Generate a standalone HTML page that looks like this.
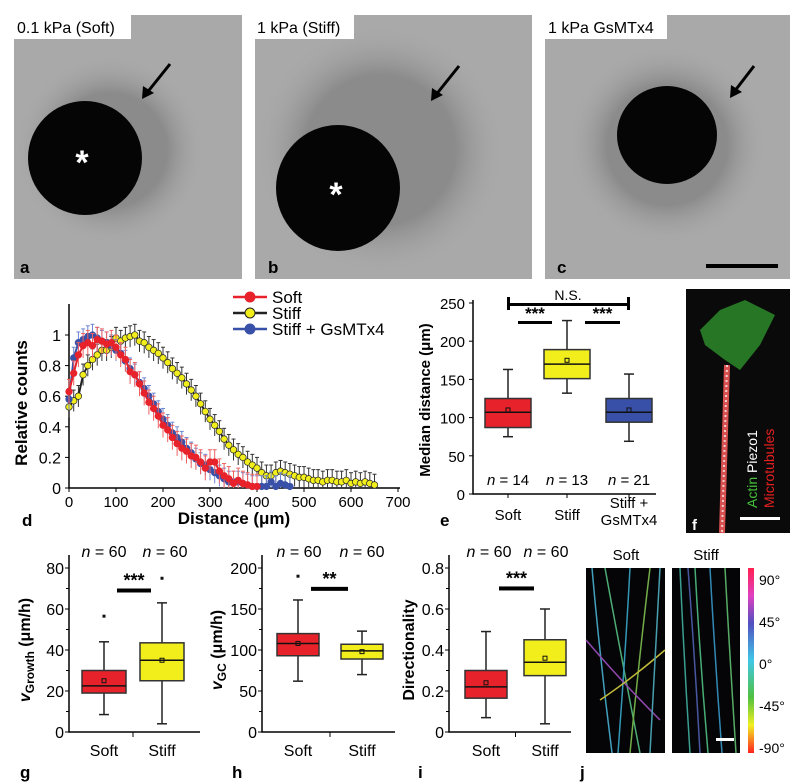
<!DOCTYPE html>
<html><head><meta charset="utf-8"><style>
body{margin:0;background:#fff}
svg{display:block;font-family:"Liberation Sans",sans-serif}
</style></head><body>
<svg id="fig" width="800" height="784" viewBox="0 0 800 784" xmlns="http://www.w3.org/2000/svg">
<defs>
<radialGradient id="halo" cx="50%" cy="50%" r="50%"><stop offset="60%" stop-color="#777"/><stop offset="100%" stop-color="#a8a8a8" stop-opacity="0"/></radialGradient>
</defs>
<g>
<rect x="14" y="15" width="228" height="264" fill="#a9a9a9"/>
<circle cx="110" cy="150" r="95" fill="url(#halo)" opacity="0.6"/>
<ellipse cx="85" cy="158" rx="57" ry="57" fill="#050505"/>
<text x="82" y="174" font-size="34" fill="#fff" text-anchor="middle" font-weight="bold">*</text>
<rect x="14" y="15" width="117" height="24" fill="#fff"/>
<text x="17" y="33" font-size="16">0.1 kPa (Soft)</text>
<line x1="170" y1="64" x2="146" y2="94" stroke="#000" stroke-width="3"/><polygon points="142,99 143,86 154,93" fill="#000"/>
<text x="20" y="273" font-size="17" font-weight="bold">a</text>
</g>
<g>
<rect x="255" y="15" width="277" height="264" fill="#a9a9a9"/>
<circle cx="380" cy="150" r="125" fill="url(#halo)" opacity="0.6"/>
<ellipse cx="338" cy="188" rx="62" ry="63" fill="#050505"/>
<text x="336" y="206" font-size="34" fill="#fff" text-anchor="middle" font-weight="bold">*</text>
<rect x="255" y="15" width="99" height="24" fill="#fff"/>
<text x="257" y="33" font-size="16">1 kPa (Stiff)</text>
<line x1="459" y1="66" x2="435" y2="96" stroke="#000" stroke-width="3"/><polygon points="431,101 432,88 443,95" fill="#000"/>
<text x="268" y="273" font-size="17" font-weight="bold">b</text>
</g>
<g>
<rect x="545" y="15" width="245" height="264" fill="#a9a9a9"/>
<circle cx="667" cy="145" r="100" fill="url(#halo)" opacity="0.6"/>
<ellipse cx="667" cy="135" rx="50" ry="49" fill="#050505"/>
<rect x="545" y="15" width="122" height="24" fill="#fff"/>
<text x="548" y="33" font-size="16">1 kPa GsMTx4</text>
<line x1="754" y1="66" x2="734" y2="92" stroke="#000" stroke-width="3"/><polygon points="730,98 731,85 742,92" fill="#000"/>
<rect x="706" y="264" width="72" height="4" fill="#000"/>
<text x="557" y="273" font-size="17" font-weight="bold">c</text>
</g>

<g id="chartD"></g>
<g id="chartE"></g>
<g>
<rect x="686" y="289" width="104" height="244" fill="#0a0a0a"/>
<path d="M700,330 L720,310 L745,300 L775,315 L760,345 L740,370 L725,360 L705,345Z" fill="#2c8a2a" opacity="0.85"/>
<line x1="727" y1="365" x2="722" y2="533" stroke="#d85050" stroke-width="6"/>
<line x1="727" y1="365" x2="722" y2="533" stroke="#f3d0d0" stroke-width="2" stroke-dasharray="2,3"/>
<text transform="translate(757,508) rotate(-90)" font-size="14"><tspan fill="#45c23a">Actin</tspan><tspan fill="#fff"> Piezo1</tspan></text>
<text transform="translate(774,508) rotate(-90)" font-size="14" fill="#e82020">Microtubules</text>
<rect x="740" y="517" width="40" height="3" fill="#fff"/>
<text x="692" y="530" font-size="15" font-weight="bold" fill="#fff">f</text>
</g>
<g id="chartG"></g>
<g id="chartH"></g>
<g id="chartI"></g>
<g>
<text x="626" y="560" font-size="15" text-anchor="middle">Soft</text>
<text x="706" y="560" font-size="15" text-anchor="middle">Stiff</text>
<rect x="586" y="568" width="79" height="185" fill="#050508"/>
<rect x="672" y="568" width="68" height="185" fill="#050508"/>
<g stroke-width="1.5" fill="none" opacity="0.9">
<path d="M592,568 Q600,660 612,753" stroke="#4ab0d0"/><path d="M605,568 Q620,650 640,753" stroke="#55c080"/>
<path d="M630,568 Q625,660 618,753" stroke="#3aa8c8"/><path d="M650,568 Q640,650 630,753" stroke="#80c050"/>
<path d="M586,640 Q620,680 660,720" stroke="#a050c0"/><path d="M600,700 Q630,680 665,650" stroke="#d8d040"/>
<path d="M660,568 Q655,660 650,753" stroke="#50b0c0"/>
<path d="M680,568 Q684,660 690,753" stroke="#40b0a0"/><path d="M695,568 Q700,660 708,753" stroke="#50c080"/>
<path d="M710,568 Q715,660 722,753" stroke="#3898c8"/><path d="M725,568 Q730,660 736,753" stroke="#60c070"/>
<path d="M688,568 Q695,660 700,753" stroke="#5060b0"/>
</g>
<rect x="716" y="738" width="18" height="3" fill="#fff"/>
<defs><linearGradient id="cbar" x1="0" y1="0" x2="0" y2="1">
<stop offset="0" stop-color="#ff2050"/><stop offset="0.15" stop-color="#e040c0"/><stop offset="0.3" stop-color="#5050c0"/><stop offset="0.5" stop-color="#40c8e8"/><stop offset="0.7" stop-color="#50c040"/><stop offset="0.85" stop-color="#f0f020"/><stop offset="1" stop-color="#ff2020"/></linearGradient></defs>
<rect x="748" y="568" width="6" height="185" fill="url(#cbar)"/>
<text x="759" y="585" font-size="14">90°</text>
<text x="759" y="627" font-size="14">45°</text>
<text x="759" y="669" font-size="14">0°</text>
<text x="759" y="711" font-size="14">-45°</text>
<text x="759" y="753" font-size="14">-90°</text>
<text x="580" y="778" font-size="17" font-weight="bold">j</text>
</g>
</svg>
<script>
const dDistSoft=[0,10,20,30,40,50,60,70,80,90,100,110,120,130,140,150,160,170,180,190,200,210,220,230,240,250,260,270,280,290,300,310,320,330,340,350,360,370,380,390,400];
const dSoft=[0.63,0.75,0.87,0.93,0.95,0.93,0.97,0.96,0.94,0.95,0.92,0.87,0.84,0.76,0.74,0.68,0.62,0.56,0.52,0.47,0.41,0.38,0.33,0.29,0.26,0.24,0.21,0.2,0.17,0.13,0.17,0.17,0.11,0.08,0.06,0.03,0.05,0.03,0.02,0.01,0.01];
const dDistGs=[0,10,20,30,40,50,60,70,80,90,100,110,120,130,140,150,160,170,180,190,200,210,220,230,240,250,260,270,280,290,300,310,320,330,340,350,360,370,380,390,400,410,420,430,440,450,460,470];
const dGs=[0.58,0.85,0.95,0.97,0.99,1.0,0.98,0.96,0.95,0.93,0.9,0.88,0.83,0.78,0.74,0.69,0.65,0.6,0.55,0.5,0.45,0.41,0.36,0.33,0.3,0.26,0.23,0.19,0.16,0.15,0.12,0.1,0.08,0.06,0.04,0.04,0.04,0.03,0.02,0.01,0.01,0.01,0.01,0.04,0.01,0.03,0.02,0.01];
const dDistStiff=[0,10,20,30,40,50,60,70,80,90,100,110,120,130,140,150,160,170,180,190,200,210,220,230,240,250,260,270,280,290,300,310,320,330,340,350,360,370,380,390,400,410,420,430,440,450,460,470,480,490,500,510,520,530,540,550,560,570,580,590,600,610,620,630,640,650];
const dStiff=[0.53,0.57,0.6,0.74,0.8,0.84,0.87,0.9,0.9,0.92,0.98,0.96,0.98,0.99,1.0,0.96,0.95,0.92,0.9,0.88,0.85,0.82,0.78,0.75,0.72,0.68,0.64,0.6,0.55,0.5,0.45,0.41,0.37,0.32,0.28,0.25,0.22,0.2,0.17,0.15,0.13,0.1,0.08,0.08,0.1,0.11,0.1,0.09,0.08,0.07,0.07,0.06,0.05,0.05,0.04,0.05,0.05,0.04,0.04,0.05,0.03,0.04,0.03,0.04,0.03,0.02];
const dErrSoft=0.08, dErrGs=0.07, dErrStiff=0.07;
const dXTicks=[0,100,200,300,400,500,600,700];
const dYTicks=[0,0.2,0.4,0.6,0.8,1];
const dYTickLabels=["0","0.2","0.4","0.6","0.8","1"];
const eCats=["Soft","Stiff","Stiff + GsMTx4"];
const eN=["14","13","21"];
const eLow=[75,132,69], eQ1=[87,151,94], eMed=[107,170,107], eQ3=[125,189,125], eHigh=[163,227,157], eMean=[110,175,110];
const eYTicks=[0,50,100,150,200,250];
const ghiCats=["Soft","Stiff"];
const gLow=[8.5,4], gQ1=[19,25], gMed=[22.5,35], gQ3=[30,43.5], gHigh=[44,63], gMean=[25,35], gOut=[56.5,75];
const gYTicks=[0,20,40,60,80];
const hLow=[62,70], hQ1=[93,89], hMed=[108,99], hQ3=[120,107], hHigh=[161,123], hMean=[108,98], hOut=[190,null];
const hYTicks=[0,50,100,150,200];
const iLow=[0.07,0.04], iQ1=[0.165,0.275], iMed=[0.22,0.34], iQ3=[0.30,0.45], iHigh=[0.49,0.60], iMean=[0.24,0.36];
const iYTicks=[0,0.2,0.4,0.6,0.8];
const iYTickLabels=["0","0.2","0.4","0.6","0.8"];

const NS="http://www.w3.org/2000/svg";
function mk(parent,tag,attrs,text){const e=document.createElementNS(NS,tag);for(const k in attrs)e.setAttribute(k,attrs[k]);if(text!==undefined)e.textContent=text;parent.appendChild(e);return e;}

(function(){
const g=document.getElementById('chartD');
const X=v=>69+v*(329/700), Y=v=>488-v*153;
let ax=mk(g,'path',{d:`M69,304 L69,488 L400,488`,stroke:'#000','stroke-width':1.5,fill:'none'});


dXTicks.forEach(t=>{mk(g,'line',{x1:X(t),y1:488,x2:X(t),y2:492,stroke:'#000'});
 const l=mk(g,'text',{x:X(t),y:507,'font-size':15,'text-anchor':'middle'},String(t));
 
 });
dYTicks.forEach((t,i)=>{mk(g,'line',{x1:65,y1:Y(t),x2:69,y2:Y(t),stroke:'#000'});
 const l=mk(g,'text',{x:61,y:Y(t)+6,'font-size':16,'text-anchor':'end'},dYTickLabels[i]);
 
 });
function series(xs,ys,err,col,ecol,fill,mstroke,name){
 const s=mk(g,'g',{});
 
 
 xs.forEach((x,i)=>{mk(s,'line',{x1:X(x),y1:Y(ys[i]+err),x2:X(x),y2:Y(Math.max(0,ys[i]-err)),stroke:ecol,'stroke-width':1});
  mk(s,'line',{x1:X(x)-2,y1:Y(ys[i]+err),x2:X(x)+2,y2:Y(ys[i]+err),stroke:ecol,'stroke-width':1});});
 mk(s,'polyline',{points:xs.map((x,i)=>X(x)+','+Y(ys[i])).join(' '),fill:'none',stroke:col,'stroke-width':2});
 xs.forEach((x,i)=>{const c=mk(s,'circle',{cx:X(x),cy:Y(ys[i]),r:3.3,fill:fill,stroke:mstroke,'stroke-width':0.7});
  
  });
}
series(dDistStiff,dStiff,dErrStiff,'#222','#333','#f2ee1c','#222','series-stiff');
series(dDistGs,dGs,dErrGs,'#3850a8','#6f86d0','#3850a8','#3850a8','series-stiff-gsmtx4');
series(dDistSoft,dSoft,dErrSoft,'#e8222a','#f06060','#e8222a','#e8222a','series-soft');
const leg=[['Soft','#e8222a','#e8222a',297],['Stiff','#222','#f2ee1c',313],['Stiff + GsMTx4','#3850a8','#3850a8',329]];
leg.forEach(l=>{const e=mk(g,'g',{});
 
 
 mk(e,'line',{x1:233,y1:l[3],x2:267,y2:l[3],stroke:l[1],'stroke-width':2.5});
 mk(e,'circle',{cx:250,cy:l[3],r:5,fill:l[2],stroke:l[1],'stroke-width':1});
 mk(e,'text',{x:272,y:l[3]+6,'font-size':17},l[0]);});
const yt=mk(g,'text',{transform:'translate(27,403) rotate(-90)','font-size':17,'font-weight':'bold','text-anchor':'middle'},'Relative counts');


const xt=mk(g,'text',{x:234,y:524,'font-size':17,'font-weight':'bold','text-anchor':'middle'},'Distance (μm)');


mk(g,'text',{x:22,y:526,'font-size':17,'font-weight':'bold'},'d');
})();

function box(g,Y,cx,hw,lo,q1,me,q3,hi,mn,fill,name){
 const b=mk(g,'g',{});
 
 
 mk(b,'line',{x1:cx,y1:Y(hi),x2:cx,y2:Y(lo),stroke:'#222','stroke-width':1.5});
 mk(b,'line',{x1:cx-5,y1:Y(hi),x2:cx+5,y2:Y(hi),stroke:'#222','stroke-width':1.5});
 mk(b,'line',{x1:cx-5,y1:Y(lo),x2:cx+5,y2:Y(lo),stroke:'#222','stroke-width':1.5});
 mk(b,'rect',{x:cx-hw,y:Y(q3),width:2*hw,height:Y(q1)-Y(q3),fill:fill,stroke:'#333','stroke-width':1.5});
 mk(b,'line',{x1:cx-hw,y1:Y(me),x2:cx+hw,y2:Y(me),stroke:'#111','stroke-width':1.5});
 mk(b,'rect',{x:cx-2,y:Y(mn)-2,width:4,height:4,fill:'none',stroke:'#111','stroke-width':1});
}
function sig(g,x1,x2,y,txt){mk(g,'rect',{x:x1,y:y,width:x2-x1,height:3,fill:'#000'});
 mk(g,'text',{x:(x1+x2)/2,y:y-2,'font-size':17,'font-weight':'bold','text-anchor':'middle'},txt);}

(function(){
const g=document.getElementById('chartE');
const Y=v=>494-v*(191/250);
const cx=[508,567,629], cols=['#e8222a','#f2ee1c','#3850a8'];
mk(g,'path',{d:'M473,300 L473,494 L656,494',stroke:'#000','stroke-width':1.5,fill:'none'});
eYTicks.forEach(t=>{mk(g,'line',{x1:469,y1:Y(t),x2:473,y2:Y(t),stroke:'#000'});
 const l=mk(g,'text',{x:465,y:Y(t)+6,'font-size':15,'text-anchor':'end'},String(t));
 
 });
eCats.forEach((c,i)=>{box(g,Y,cx[i],23,eLow[i],eQ1[i],eMed[i],eQ3[i],eHigh[i],eMean[i],cols[i],'box-'+i);
 mk(g,'line',{x1:cx[i],y1:494,x2:cx[i],y2:498,stroke:'#000'});
 const n=mk(g,'text',{x:cx[i],y:485,'font-size':15,'text-anchor':'middle'});
 mk(n,'tspan',{'font-style':'italic'},'n');mk(n,'tspan',{},' = '+eN[i]);});
mk(g,'text',{x:508,y:520,'font-size':15,'text-anchor':'middle'},'Soft');
mk(g,'text',{x:567,y:520,'font-size':15,'text-anchor':'middle'},'Stiff');
mk(g,'text',{x:629,y:508,'font-size':15,'text-anchor':'middle'},'Stiff +');
mk(g,'text',{x:629,y:525,'font-size':15,'text-anchor':'middle'},'GsMTx4');
mk(g,'rect',{x:508,y:303,width:121,height:3,fill:'#000'});
mk(g,'rect',{x:507,y:297,width:3,height:13,fill:'#000'});
mk(g,'rect',{x:627,y:297,width:3,height:13,fill:'#000'});
mk(g,'text',{x:568,y:300,'font-size':14,'text-anchor':'middle'},'N.S.');
sig(g,518,552,321,'***');sig(g,585,620,321,'***');
const yt=mk(g,'text',{transform:'translate(430,400) rotate(-90)','font-size':15,'font-weight':'bold','text-anchor':'middle'},'Median distance (μm)');


mk(g,'text',{x:440,y:526,'font-size':17,'font-weight':'bold'},'e');
})();

function smallChart(id,axX,axEnd,cx,hw,ticks,labels,vmax,lo,q1,me,q3,hi,mn,outs,sigX,sigV,sigTxt,title,letter,letX,titleX,nx){
 const g=document.getElementById(id);
 const Y=v=>732-v*(164/vmax);
 mk(g,'path',{d:`M${axX},555 L${axX},732 L${axEnd},732`,stroke:'#000','stroke-width':1.5,fill:'none'});
 ticks.forEach((t,i)=>{mk(g,'line',{x1:axX-4,y1:Y(t),x2:axX,y2:Y(t),stroke:'#000'});
  const l=mk(g,'text',{x:axX-5,y:Y(t)+6,'font-size':16,'text-anchor':'end'},labels[i]);
  
  
  if(i<ticks.length-1) mk(g,'line',{x1:axX-3,y1:Y((t+ticks[i+1])/2),x2:axX,y2:Y((t+ticks[i+1])/2),stroke:'#000'});});
 mk(g,'line',{x1:(cx[0]+cx[1])/2,y1:732,x2:(cx[0]+cx[1])/2,y2:737,stroke:'#000'});
 const cols=['#e8222a','#f2ee1c'];
 ghiCats.forEach((c,i)=>{box(g,Y,cx[i],hw,lo[i],q1[i],me[i],q3[i],hi[i],mn[i],cols[i],'box-'+c.toLowerCase());
  if(outs&&outs[i]!=null) mk(g,'rect',{x:cx[i]-1.5,y:Y(outs[i])-1.5,width:3,height:3,fill:'#111'});
  mk(g,'text',{x:cx[i],y:756,'font-size':16,'text-anchor':'middle'},c);
  const n=mk(g,'text',{x:nx[i],y:557,'font-size':16,'text-anchor':'middle'});
  mk(n,'tspan',{'font-style':'italic'},'n');mk(n,'tspan',{},' = 60');});
 mk(g,'rect',{x:sigX[0],y:Y(sigV),width:sigX[1]-sigX[0],height:4,fill:'#000'});
 mk(g,'text',{x:(sigX[0]+sigX[1])/2,y:Y(sigV)-2,'font-size':18,'font-weight':'bold','text-anchor':'middle'},sigTxt);
 const t=mk(g,'text',{transform:`translate(${titleX},650) rotate(-90)`,'font-size':16,'font-weight':'bold','text-anchor':'middle'});
 
 
 title.forEach(p=>mk(t,'tspan',p[1]||{},p[0]));
 mk(g,'text',{x:letX,y:778,'font-size':17,'font-weight':'bold'},letter);
}
smallChart('chartG',69,200,[104,162],22,gYTicks,gYTicks.map(String),80,gLow,gQ1,gMed,gQ3,gHigh,gMean,gOut,[117,151],70,'***',
 [['v',{'font-style':'italic'}],['Growth',{'font-size':12,dy:4}],[' (μm/h)',{dy:-4}]],'g',20,30,[104,165]);
smallChart('chartH',262,395,[298,362],21,hYTicks,hYTicks.map(String),200,hLow,hQ1,hMed,hQ3,hHigh,hMean,hOut,[311,348],177,'**',
 [['v',{'font-style':'italic'}],['GC',{'font-size':12,dy:4}],[' (μm/h)',{dy:-4}]],'h',232,222,[299,362]);
smallChart('chartI',449,571,[486,545],21,iYTicks,iYTickLabels,0.8,iLow,iQ1,iMed,iQ3,iHigh,iMean,null,[499,534],0.71,'***',
 [['Directionality',{}]],'i',418,414,[489,546]);
</script>
</body></html>
